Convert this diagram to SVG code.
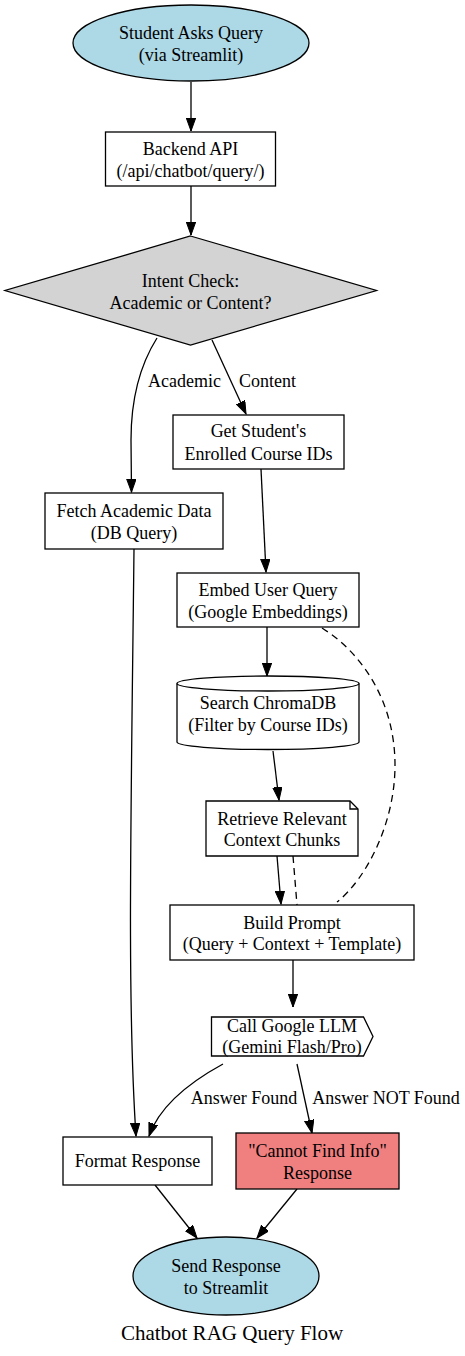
<svg xmlns="http://www.w3.org/2000/svg" width="465" height="1356" viewBox="0 0 465 1356">
<defs>
<marker id="arr" markerUnits="userSpaceOnUse" markerWidth="14" markerHeight="10" refX="13" refY="4.7" orient="auto">
<path d="M0,0 L13,4.7 L0,9.4 z" fill="#000" stroke="#000" stroke-width="1"/>
</marker>
<style>
text{font-family:"Liberation Serif","Times New Roman",serif;font-size:18px;fill:#000;text-anchor:middle}
.shape{stroke:#000;stroke-width:1.3;fill:#fff}
.blue{fill:#add8e6}
.gray{fill:#d3d3d3}
.red{fill:#f08080}
.edge{fill:none;stroke:#000;stroke-width:1.3}
.arrow{marker-end:url(#arr)}
.dash{stroke-dasharray:7,5}
.title{font-size:21px}
</style>
</defs>
<rect width="465" height="1356" fill="#fff"/>
<g id="connectors">
<path class="edge arrow" d="M191,82 L191,131"/>
<path class="edge arrow" d="M191,186 L191,235"/>
<path class="edge arrow" d="M157,338 C140,365 131,400 131,440 L131.5,492"/>
<path class="edge arrow" d="M212,340 L246,414"/>
<path class="edge arrow" d="M261,469 L266,572"/>
<path class="edge arrow" d="M267,627 L267,676"/>
<path class="edge arrow" d="M273,751 L279,800"/>
<path class="edge arrow" d="M277,856 L281,904"/>
<path class="edge dash" d="M293,856 L297,905"/>
<path class="edge dash" d="M322,628 C365,655 395,705 395,765 C395,825 365,880 337,902"/>
<path class="edge arrow" d="M293,960 L293,1007"/>
<path class="edge arrow" d="M223,1064 C190,1082 160,1105 149,1136"/>
<path class="edge arrow" d="M297,1064 L312,1133"/>
<path class="edge arrow" d="M134,549 C131,820 127,1000 136,1136"/>
<path class="edge arrow" d="M155,1185 L197,1238"/>
<path class="edge arrow" d="M297,1189 L257,1238"/>
<text x="184.5" y="387">Academic</text>
<text x="267.5" y="387">Content</text>
<text x="244" y="1104">Answer Found</text>
<text x="386" y="1104">Answer NOT Found</text>
</g>
<g id="start">
<ellipse class="shape blue" cx="191" cy="43" rx="118" ry="38"/>
<text x="191" y="39">Student Asks Query</text>
<text x="191" y="61">(via Streamlit)</text>
</g>
<g id="backend">
<rect class="shape" x="105.5" y="132" width="170" height="54"/>
<text x="190.5" y="155">Backend API</text>
<text x="190.5" y="177">(/api/chatbot/query/)</text>
</g>
<g id="intent">
<polygon class="shape gray" points="190.5,236 376.5,290.5 190.5,345 5,290.5"/>
<text x="190.5" y="287">Intent Check:</text>
<text x="190.5" y="308.5">Academic or Content?</text>
</g>
<g id="getcourses">
<rect class="shape" x="173" y="415" width="171" height="54"/>
<text x="258.5" y="437">Get Student's</text>
<text x="258.5" y="459.5">Enrolled Course IDs</text>
</g>
<g id="fetch">
<rect class="shape" x="45" y="493" width="178" height="56"/>
<text x="134" y="517">Fetch Academic Data</text>
<text x="134" y="538.5">(DB Query)</text>
</g>
<g id="embed">
<rect class="shape" x="177" y="573" width="182" height="54"/>
<text x="268" y="596">Embed User Query</text>
<text x="268" y="617.5">(Google Embeddings)</text>
</g>
<g id="search">
<path class="shape" d="M177,683.5 L177,742 A91,7.5 0 0 0 359,742 L359,683.5 A91,7.5 0 0 0 177,683.5 z"/>
<path class="edge" d="M177,683.5 A91,7.5 0 0 0 359,683.5"/>
<text x="268" y="709">Search ChromaDB</text>
<text x="268" y="730.5">(Filter by Course IDs)</text>
</g>
<g id="retrieve">
<path class="shape" d="M206,801 L350,801 L358,809 L358,856 L206,856 z"/>
<path class="edge" d="M350,801 L350,809 L358,809"/>
<text x="282" y="824.5">Retrieve Relevant</text>
<text x="282" y="846">Context Chunks</text>
</g>
<g id="build">
<rect class="shape" x="170" y="905" width="244" height="55"/>
<text x="292" y="928.5">Build Prompt</text>
<text x="292" y="950">(Query + Context + Template)</text>
</g>
<g id="llm">
<path class="shape" d="M211.5,1017 L363.5,1017 L373,1036.5 L363.5,1056 L211.5,1056 z"/>
<text x="292" y="1032">Call Google LLM</text>
<text x="292" y="1052.5">(Gemini Flash/Pro)</text>
</g>
<g id="format">
<rect class="shape" x="63" y="1137" width="149" height="48"/>
<text x="137.5" y="1167">Format Response</text>
</g>
<g id="cannot">
<rect class="shape red" x="236" y="1133" width="163" height="56"/>
<text x="317.5" y="1157">"Cannot Find Info"</text>
<text x="317.5" y="1178.5">Response</text>
</g>
<g id="send">
<ellipse class="shape blue" cx="226" cy="1276" rx="93" ry="39"/>
<text x="226" y="1272">Send Response</text>
<text x="226" y="1293.5">to Streamlit</text>
</g>
<text class="title" x="232" y="1340">Chatbot RAG Query Flow</text>
</svg>
